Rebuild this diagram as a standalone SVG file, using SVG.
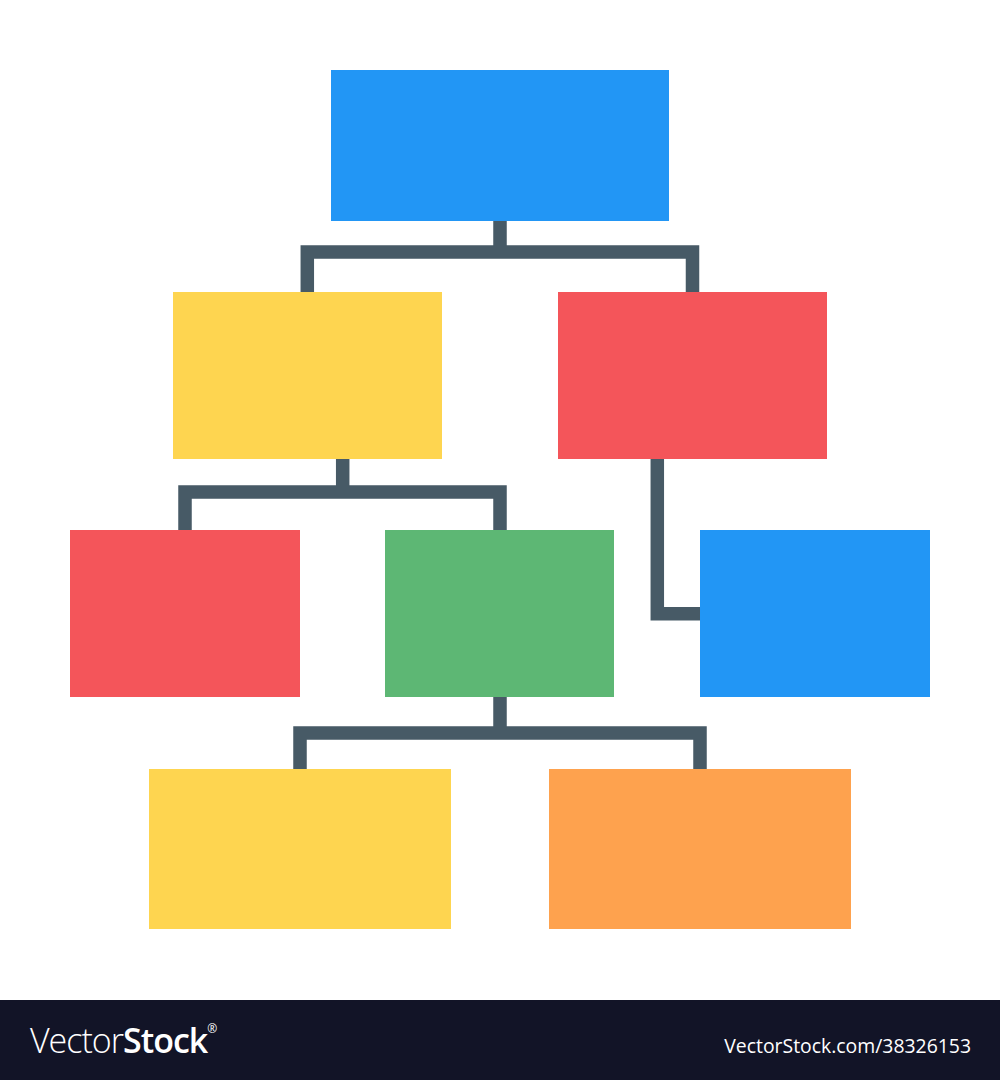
<svg xmlns="http://www.w3.org/2000/svg" width="1000" height="1080" viewBox="0 0 1000 1080">
  <style>
    .blue { fill: #2296F5; }
    .yellow { fill: #FED550; }
    .red { fill: #F4555A; }
    .green { fill: #5DB774; }
    .orange { fill: #FEA24E; }
    .conn { fill: none; stroke: #475A66; stroke-width: 13.5; stroke-linejoin: miter; stroke-linecap: butt; }
    .logo { font-family: "Open Sans", "Liberation Sans", sans-serif; fill: #FFFFFF; }
  </style>
  <rect x="0" y="0" width="1000" height="1080" fill="#FFFFFF"/>
  <g id="connectors">
    <path class="conn" d="M500 221 V252 M307.3 292 V252 H692.5 V292"/>
    <path class="conn" d="M342.7 459 V492 M185 530 V492 H500 V530"/>
    <path class="conn" d="M657.3 459 V613.7 H700"/>
    <path class="conn" d="M500 697 V733 M300 769 V733 H700 V769"/>
  </g>
  <g id="node-root"><rect class="blue" x="331" y="70" width="338" height="151"/></g>
  <g id="node-left"><rect class="yellow" x="173" y="292" width="269" height="167"/></g>
  <g id="node-right"><rect class="red" x="558" y="292" width="269" height="167"/></g>
  <g id="node-left-left"><rect class="red" x="70" y="530" width="230" height="167"/></g>
  <g id="node-left-right"><rect class="green" x="385" y="530" width="229" height="167"/></g>
  <g id="node-right-child"><rect class="blue" x="700" y="530" width="230" height="167"/></g>
  <g id="node-bottom-left"><rect class="yellow" x="149" y="769" width="302" height="160"/></g>
  <g id="node-bottom-right"><rect class="orange" x="549" y="769" width="302" height="160"/></g>
  <g id="footer">
    <rect x="0" y="1000" width="1000" height="80" fill="#121427"/>
    <text class="logo" x="30" y="1053" font-size="34" letter-spacing="-1"><tspan font-weight="300">Vector</tspan><tspan font-weight="600">Stock</tspan><tspan font-size="12" dy="-20">®</tspan></text>
    <text class="logo" x="971" y="1053" font-size="19.4" text-anchor="end">VectorStock.com/38326153</text>
  </g>
</svg>
